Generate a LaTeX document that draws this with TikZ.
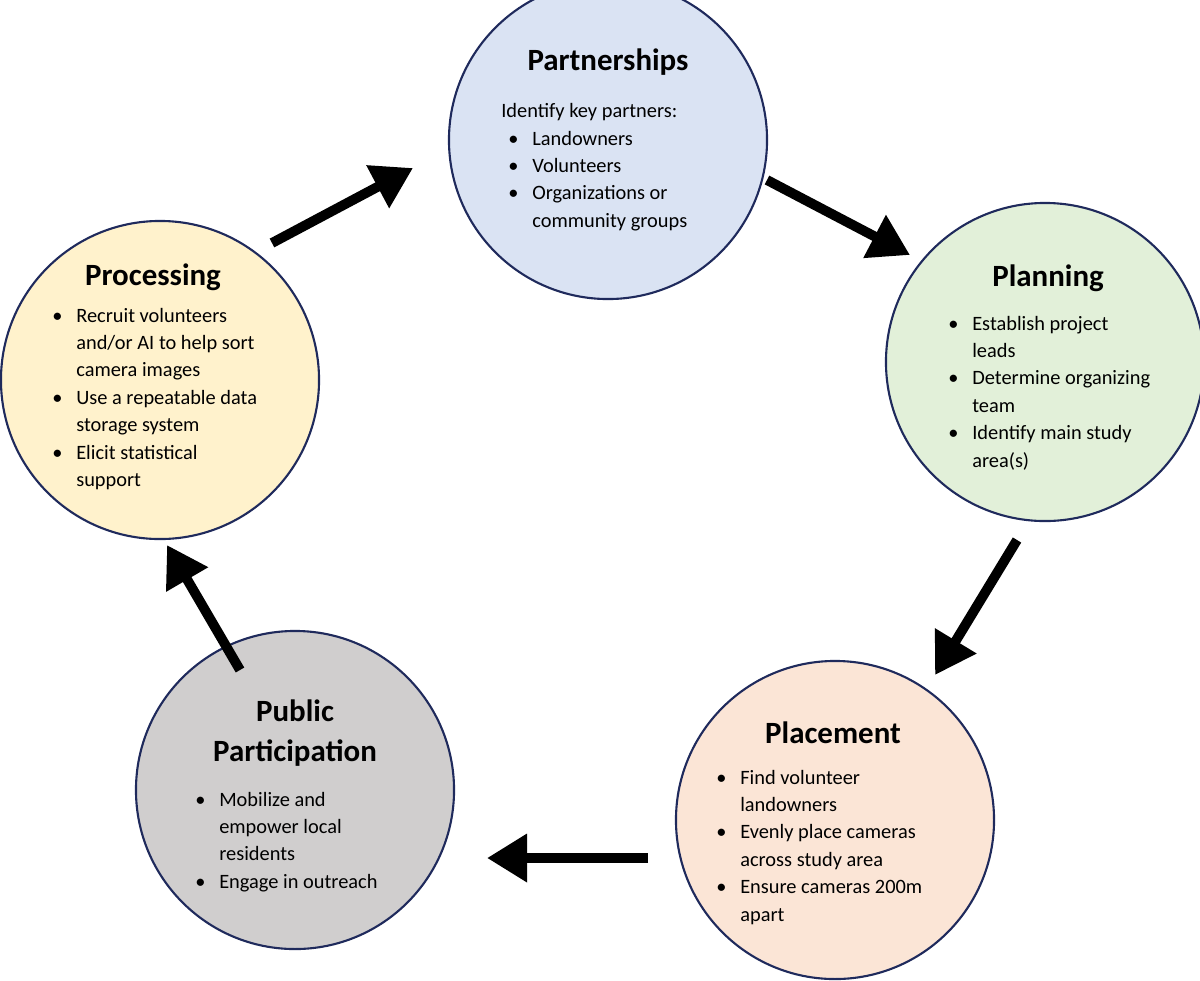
\documentclass[tikz,border=0pt]{standalone}
\usepackage{fontspec}
\setmainfont{Carlito}
\usetikzlibrary{arrows.meta}
\definecolor{ringline}{HTML}{1F2A5C}
\definecolor{partblue}{HTML}{DAE3F3}
\definecolor{plangreen}{HTML}{E2F0D9}
\definecolor{placeorange}{HTML}{FBE5D6}
\definecolor{publicgray}{HTML}{D0CECE}
\definecolor{procyellow}{HTML}{FFF2CC}
\newcommand{\stagelist}[1]{\begin{tabular}[t]{@{}p{0.6cm}@{}l@{}}#1\end{tabular}}
\begin{document}
\begin{tikzpicture}[x=0.025cm, y=-0.025cm,
  stage/.style = {draw=ringline, line width=1.5pt, circle, minimum size=7.95cm},
  title/.style = {font=\fontsize{22}{28}\selectfont\bfseries, align=center},
  body/.style = {font=\fontsize{14.5}{19.5}\selectfont, anchor=base west, inner sep=0pt},
  flow/.style = {line width=7pt, -{Triangle[length=1cm, width=1.15cm]}}]
  \useasboundingbox (0,0) rectangle (1200,980);
  % circles
  \node[stage, fill=partblue] (part) at (608,140) {};
  \node[stage, fill=plangreen] (plan) at (1045,362) {};
  \node[stage, fill=placeorange] (place) at (835,820) {};
  \node[stage, fill=publicgray] (public) at (295,790) {};
  \node[stage, fill=procyellow] (proc) at (160,380) {};
  % titles
  \node[title] (part-t) at (608,62) {Partnerships};
  \node[title] (plan-t) at (1048,278) {Planning};
  \node[title] (place-t) at (833,733) {Placement};
  \node[title] (public-t) at (295,733) {Public\\Participation};
  \node[title] (proc-t) at (153,277) {Processing};
  % lists
  \node[body] (part-b0) at (501,117) {Identify key partners:};
  \node[body] (part-b) at (508,145) {\stagelist{\textbullet & Landowners\\ \textbullet & Volunteers\\ \textbullet & Organizations or\\ & community groups}};
  \node[body] (plan-b) at (948,330) {\stagelist{\textbullet & Establish project\\ & leads\\ \textbullet & Determine organizing\\ & team\\ \textbullet & Identify main study\\ & area(s)}};
  \node[body] (place-b) at (716,784) {\stagelist{\textbullet & Find volunteer\\ & landowners\\ \textbullet & Evenly place cameras\\ & across study area\\ \textbullet & Ensure cameras 200m\\ & apart}};
  \node[body] (public-b) at (195,806) {\stagelist{\textbullet & Mobilize and\\ & empower local\\ & residents\\ \textbullet & Engage in outreach}};
  \node[body] (proc-b) at (52,322) {\stagelist{\textbullet & Recruit volunteers\\ & and/or AI to help sort\\ & camera images\\ \textbullet & Use a repeatable data\\ & storage system\\ \textbullet & Elicit statistical\\ & support}};
  % arrow ends
  \coordinate (a1) at (272,243); \coordinate (b1) at (413,168);
  \coordinate (a2) at (767,180); \coordinate (b2) at (910,255);
  \coordinate (a3) at (1017,540); \coordinate (b3) at (935,675);
  \coordinate (a4) at (648,858); \coordinate (b4) at (487,858);
  \coordinate (a5) at (240,670); \coordinate (b5) at (167,545);
  \foreach \i in {1,...,5}
    \draw[flow] (a\i) -- (b\i);
\end{tikzpicture}
\end{document}
